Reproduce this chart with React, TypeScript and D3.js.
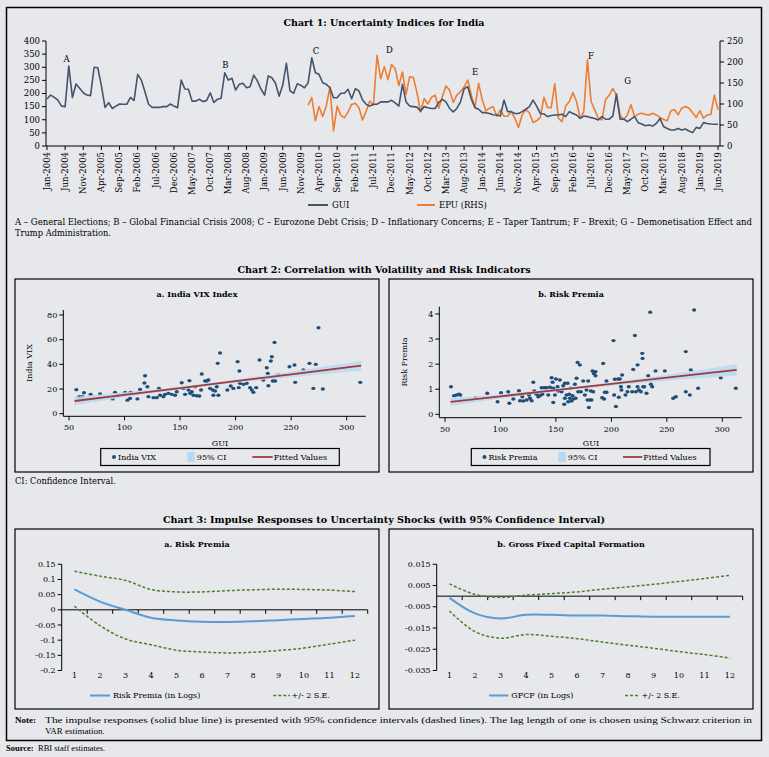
import React from "react";
import * as d3 from "d3";

// ---------------- DATA ----------------
// Chart 1: monthly, Jan-2004 .. Jun-2019
const guiValues = [
  179, 194, 185, 175, 152, 150, 305, 185, 236, 220, 203, 194,
  192, 300, 298, 229, 147, 165, 143, 152, 160, 159, 159, 185,
  173, 273, 251, 207, 159, 147, 147, 147, 150, 150, 160, 152,
  146, 251, 217, 216, 171, 171, 178, 169, 173, 203, 166, 178,
  182, 279, 251, 258, 213, 235, 239, 222, 226, 270, 248, 216,
  194, 267, 260, 239, 190, 232, 315, 210, 201, 237, 231, 222,
  241, 336, 279, 273, 241, 235, 222, 184, 184, 201, 201, 216,
  180, 218, 210, 175, 159, 152, 159, 159, 168, 168, 168, 174,
  164, 152, 235, 168, 152, 150, 148, 133, 150, 146, 143, 143,
  165, 178, 168, 143, 130, 143, 168, 218, 226, 178, 146, 140,
  127, 127, 124, 119, 118, 114, 175, 131, 131, 124, 124, 131,
  140, 150, 175, 152, 124, 122, 112, 116, 118, 118, 121, 112,
  131, 124, 118, 105, 114, 112, 108, 105, 99, 112, 102, 102,
  114, 198, 102, 103, 93, 102, 112, 89, 84, 77, 80, 76,
  86, 105, 74, 67, 61, 61, 67, 61, 65, 57, 51, 71,
  67, 89, 86, 84, 83, 83,
];
// EPU starts Jan-2010 (month index 72)
const epuStartIndex = 72;
const epuValues = [
  97, 115, 60, 94, 70, 95, 141, 36, 95, 73, 67, 81,
  99, 102, 91, 62, 83, 107, 97, 216, 160, 189, 158, 194,
  184, 144, 176, 123, 165, 163, 127, 81, 113, 100, 116, 121,
  90, 117, 143, 133, 104, 121, 129, 141, 157, 121, 92, 149,
  110, 84, 90, 94, 71, 86, 71, 71, 82, 66, 44, 74,
  87, 79, 56, 60, 68, 116, 92, 91, 148, 66, 58, 95,
  106, 127, 106, 66, 82, 205, 106, 86, 66, 62, 110, 121,
  137, 121, 74, 63, 74, 98, 70, 76, 78, 75, 74, 78,
  74, 68, 63, 60, 84, 87, 74, 90, 94, 90, 79, 68,
  84, 66, 74, 75, 121, 86,
];
const leftTicks = [0, 50, 100, 150, 200, 250, 300, 350, 400];
const rightTicks = [0, 50, 100, 150, 200, 250];
const eventLabels = ["A", "B", "C", "D", "E", "F", "G"];
const eventMonth = [5.4, 49.2, 74.2, 94.4, 118, 150, 160.1];
const eventLevel = [320, 297, 349, 354, 270, 331, 236];

// Chart 2a: India VIX vs GUI
const vixGui = [56.6, 59.3, 62, 63.5, 69.5, 78, 89.3, 91.4, 94.4, 100.5, 102.6, 105, 105.5, 111.6, 114, 117.9, 118.5, 120.6, 121.5, 126, 129, 131, 132, 135, 136.5, 139.5, 142.5, 145.5, 147, 151.5, 153, 154.5, 157.5, 158.4, 159, 160.5, 162, 163.5, 165, 167.4, 168.9, 169.5, 172.5, 174, 175.5, 177, 179.4, 180, 181.5, 183, 183.9, 184.5, 186, 192.6, 195.6, 198, 201.8, 202.8, 203.4, 204, 207, 210, 213, 214.6, 216, 218.5, 221.5, 225, 228, 229, 229.5, 231.7, 232.6, 233.5, 235, 235.6, 238.6, 248.5, 253, 253.6, 261, 266.5, 270, 272.2, 274.6, 278.5, 312.2];
const vixValues = [19.5, 13.8, 13.8, 17, 15.7, 16, 12, 17.3, 15, 17.3, 11, 12.4, 17.3, 12, 19.7, 24.9, 30.8, 21.9, 13.8, 13, 13, 20.5, 15, 13.8, 15.7, 16.5, 15.7, 15, 17.8, 25.1, 20.5, 15.7, 19.2, 26.8, 16.5, 17.8, 15, 21.9, 14.6, 14.3, 19.2, 32.2, 26.5, 26.5, 27.3, 20.5, 19.2, 15, 18.4, 21.9, 40.8, 15, 49.2, 19.2, 22.4, 20.5, 42.2, 21.1, 34.6, 24.6, 23.8, 24.6, 21.1, 19.2, 17.3, 21.1, 43.5, 27.3, 37.3, 32.7, 22.7, 42.7, 46.2, 26.5, 57.8, 26.5, 31.4, 38.1, 39.5, 25.4, 35.4, 40.8, 20.5, 40, 69.7, 20, 25.4];
const fitGrid = [55, 100, 150, 200, 250, 313];
const vixFit = [10.3, 15.3, 20.8, 26.4, 31.9, 38.9];
const vixCiUpper = [13.7, 17.3, 21.9, 27.7, 34.3, 42.7];
const vixCiLower = [6.9, 13.3, 19.7, 25.1, 29.5, 35.1];
const vixTicks = [0, 20, 40, 60, 80];

// Chart 2b: Risk premia vs GUI
const rpGui = [55.4, 58.1, 60.5, 62.6, 63.8, 77.6, 88.1, 97.4, 100.5, 107, 108, 111.6, 116.7, 117.6, 119.7, 120.6, 123.6, 125.7, 126.6, 128.1, 129.6, 130.5, 132.6, 134.1, 135.6, 137.1, 137.7, 139.5, 141.6, 143.1, 144.6, 146.1, 147, 147.6, 147.6, 149.1, 150, 151.5, 152.1, 153.6, 155.1, 156.6, 157.5, 158.1, 158.1, 159.6, 160.5, 161.1, 162, 162.6, 163.5, 164.1, 165, 165.6, 167.1, 167.7, 168.6, 169.5, 170.1, 171.6, 172.5, 174.6, 176.1, 177.6, 178.5, 179.1, 179.7, 180.6, 181.5, 182.1, 183, 183.6, 184.2, 185.7, 185.7, 191.7, 192.6, 193.5, 194.1, 195.6, 195.6, 201.9, 202.5, 203.1, 204.1, 206.1, 206.7, 207.6, 208.6, 209.1, 209.7, 212.7, 214.5, 215.7, 218.7, 219.7, 221.2, 222.1, 223.6, 223.6, 224.8, 226.6, 227.8, 228.1, 228.7, 229.6, 231.7, 233.2, 235, 235.6, 236.8, 239.8, 248.2, 255.7, 258.1, 267.1, 267.1, 270.7, 271.6, 274.6, 278.2, 298.6, 312.2];
const rpValues = [1.10, 0.74, 0.77, 0.80, 0.77, 0.66, 0.84, 0.50, 0.86, 0.90, 0.44, 0.61, 0.94, 0.54, 0.70, 0.53, 0.57, 0.77, 0.64, 0.54, 1.28, 0.93, 0.80, 0.70, 0.74, 1.06, 0.80, 1.06, 1.06, 0.77, 1.08, 1.46, 1.28, 0.47, 1.04, 0.77, 1.41, 1.10, 0.93, 1.37, 0.90, 1.14, 0.40, 1.24, 0.64, 0.77, 1.24, 0.50, 0.80, 0.64, 1.04, 0.53, 0.74, 0.61, 1.20, 0.64, 1.44, 2.07, 0.90, 1.97, 0.90, 1.33, 0.77, 0.97, 0.57, 1.33, 0.27, 0.57, 0.93, 0.57, 1.73, 0.90, 1.63, 1.70, 1.54, 0.66, 2.03, 0.61, 0.88, 1.33, 0.88, 2.94, 0.77, 1.40, 0.31, 1.41, 0.68, 1.41, 1.10, 0.97, 1.57, 0.77, 0.90, 1.10, 0.90, 1.79, 3.14, 0.90, 1.97, 1.10, 0.97, 0.90, 2.43, 2.23, 1.10, 1.10, 0.84, 1.54, 4.07, 1.20, 1.10, 1.73, 1.73, 0.64, 0.70, 0.90, 2.50, 0.77, 1.77, 4.16, 1.04, 1.46, 1.04];
const rpFit = [0.495, 0.717, 0.964, 1.21, 1.46, 1.77];
const rpCiUpper = [0.66, 0.80, 1.02, 1.28, 1.58, 2.0];
const rpCiLower = [0.33, 0.63, 0.91, 1.14, 1.34, 1.54];
const rpTicks = [0, 1, 2, 3, 4];
const guiTicks = [50, 100, 150, 200, 250, 300];

// Chart 3: impulse responses, periods 1..12
const periods = [1, 2, 3, 4, 5, 6, 7, 8, 9, 10, 11, 12];
const rpIrf = [0.067, 0.027, 0.0, -0.026, -0.035, -0.039, -0.04, -0.038, -0.034, -0.03, -0.026, -0.02];
const rpUpper = [0.127, 0.111, 0.097, 0.067, 0.059, 0.059, 0.063, 0.066, 0.068, 0.067, 0.065, 0.06];
const rpLower = [0.012, -0.052, -0.096, -0.115, -0.133, -0.139, -0.142, -0.14, -0.134, -0.126, -0.113, -0.1];
const rpIrfTicks = [-0.2, -0.15, -0.1, -0.05, 0, 0.05, 0.1, 0.15];
const gfcfIrf = [-0.0008, -0.0081, -0.0105, -0.0088, -0.0088, -0.0091, -0.0091, -0.0094, -0.0097, -0.0097, -0.0097, -0.0097];
const gfcfUpper = [0.0058, 0.0008, -0.0006, 0.0005, 0.0012, 0.002, 0.0033, 0.0044, 0.0056, 0.0069, 0.0083, 0.0098];
const gfcfLower = [-0.007, -0.0167, -0.0198, -0.0181, -0.0189, -0.02, -0.0216, -0.0231, -0.0245, -0.0261, -0.0275, -0.0291];
const gfcfTicks = [-0.035, -0.025, -0.015, -0.005, 0.005, 0.015];

// ---------------- STYLE ----------------
const SERIF = "'DejaVu Serif', 'Liberation Serif', serif";
const NOTE = "'Liberation Serif', serif";
const BG = "#e7e8ec";
const GUI_C = "#44546a";
const EPU_C = "#ed7d31";
const DOT_C = "#1f4e79";
const FIT_C = "#a23a3a";
const CI_C = "#b9d9f2";
const IRF_C = "#5b9bd5";
const SE_C = "#4f7f2a";

const months = d3.timeMonth.range(new Date(2004, 0, 1), new Date(2019, 6, 1));
const fmtMonth = d3.timeFormat("%b-%Y");

function Chart1() {
  const x = d3.scaleLinear().domain([0, guiValues.length - 1]).range([47, 718]);
  const yL = d3.scaleLinear().domain([0, 400]).range([146, 41]);
  const yR = d3.scaleLinear().domain([0, 250]).range([146, 41]);
  const guiLine = d3.line<number>().x((_, i) => x(i)).y((d) => yL(d));
  const epuLine = d3.line<number>().x((_, i) => x(i + epuStartIndex)).y((d) => yR(d));
  const labelIdx = d3.range(0, months.length, 5);
  return (
    <g fontFamily={SERIF}>
      <text x={384} y={26} textAnchor="middle" fontWeight="bold" fontSize={9.5} textLength={201} lengthAdjust="spacingAndGlyphs">
        Chart 1: Uncertainty Indices for India
      </text>
      {/* axes */}
      <line x1={46} x2={46} y1={41} y2={146} stroke="#000" strokeWidth={1} />
      <line x1={720} x2={720} y1={41} y2={146} stroke="#000" strokeWidth={1} />
      <line x1={46} x2={720} y1={146} y2={146} stroke="#000" strokeWidth={1} />
      {leftTicks.map((t) => (
        <g key={"l" + t}>
          <line x1={42} x2={46} y1={yL(t)} y2={yL(t)} stroke="#000" />
          <text x={40} y={yL(t)} dy="0.33em" textAnchor="end" fontSize={8.5}>{t}</text>
        </g>
      ))}
      {rightTicks.map((t) => (
        <g key={"r" + t}>
          <line x1={720} x2={724} y1={yR(t)} y2={yR(t)} stroke="#000" />
          <text x={727} y={yR(t)} dy="0.33em" textAnchor="start" fontSize={8.5}>{t}</text>
        </g>
      ))}
      {labelIdx.map((i) => (
        <g key={"m" + i}>
          <line x1={x(i)} x2={x(i)} y1={146} y2={150} stroke="#000" />
          <text transform={`translate(${x(i)},152) rotate(-90)`} dy="0.33em" textAnchor="end" fontSize={8.5}>
            {fmtMonth(months[i])}
          </text>
        </g>
      ))}
      <path d={epuLine(epuValues) || ""} fill="none" stroke={EPU_C} strokeWidth={1.6} strokeLinejoin="round" />
      <path d={guiLine(guiValues) || ""} fill="none" stroke={GUI_C} strokeWidth={1.6} strokeLinejoin="round" />
      {eventLabels.map((l, k) => (
        <text key={l} x={x(eventMonth[k])} y={yL(eventLevel[k])} textAnchor="middle" fontSize={8.5}>{l}</text>
      ))}
      {/* legend */}
      <line x1={308} x2={328} y1={205} y2={205} stroke={GUI_C} strokeWidth={2} />
      <text x={332} y={205} dy="0.33em" fontSize={8.5}>GUI</text>
      <line x1={417} x2={435} y1={205} y2={205} stroke={EPU_C} strokeWidth={2} />
      <text x={439} y={205} dy="0.33em" fontSize={8.5}>EPU (RHS)</text>
      <text x={15} y={225} fontSize={8.3} textLength={737} lengthAdjust="spacingAndGlyphs">
        A – General Elections; B – Global Financial Crisis 2008; C – Eurozone Debt Crisis; D – Inflationary Concerns; E – Taper Tantrum; F – Brexit; G – Demonetisation Effect and
      </text>
      <text x={15} y={236} fontSize={8.3}>Trump Administration.</text>
    </g>
  );
}

type ScatterProps = {
  left: number; axisX: number; x0: number; x1: number; axisRight: number;
  yTop: number; y0: number; yMax: number; axisBottom: number; yMaxVal: number;
  xs: number[]; ys: number[]; fit: number[]; up: number[]; lo: number[]; yTicks: number[];
  title: string; titleX: number; ylabel: string; ylabelX: number; ylabelY: number; guiX: number;
  legend: { box: [number, number]; dot: number; sw: number; line: number; lineEnd: number; name: string };
};

function Scatter(p: ScatterProps) {
  const x = d3.scaleLinear().domain([50, 300]).range([p.x0, p.x1]);
  const y = d3.scaleLinear().domain([0, p.yMaxVal]).range([p.y0, p.yMax]);
  const idx = d3.range(fitGrid.length);
  const band = d3.area<number>().x((i) => x(fitGrid[i])).y0((i) => y(p.lo[i])).y1((i) => y(p.up[i])).curve(d3.curveMonotoneX);
  const fitLine = d3.line<number>().x((i) => x(fitGrid[i])).y((i) => y(p.fit[i]));
  const lg = p.legend;
  return (
    <g fontFamily={SERIF}>
      <rect x={p.left} y={279} width={364} height={193} fill="none" stroke="#000" strokeWidth={1.2} />
      <text x={p.titleX} y={297} textAnchor="middle" fontWeight="bold" fontSize={8}>{p.title}</text>
      <line x1={p.axisX} x2={p.axisX} y1={p.yTop} y2={p.axisBottom} stroke="#000" />
      <line x1={p.axisX} x2={p.axisRight} y1={p.axisBottom} y2={p.axisBottom} stroke="#000" />
      {p.yTicks.map((t) => (
        <g key={t}>
          <line x1={p.axisX - 4} x2={p.axisX} y1={y(t)} y2={y(t)} stroke="#000" />
          <text x={p.axisX - 6} y={y(t)} dy="0.33em" textAnchor="end" fontSize={8}>{t}</text>
        </g>
      ))}
      {guiTicks.map((t) => (
        <g key={t}>
          <line x1={x(t)} x2={x(t)} y1={p.axisBottom} y2={p.axisBottom + 4} stroke="#000" />
          <text x={x(t)} y={p.axisBottom + 14} textAnchor="middle" fontSize={8}>{t}</text>
        </g>
      ))}
      <text transform={`translate(${p.ylabelX},${p.ylabelY}) rotate(-90)`} textAnchor="middle" fontSize={8}>{p.ylabel}</text>
      <text x={p.guiX} y={446} textAnchor="middle" fontSize={8}>GUI</text>
      {p.xs.map((v, i) => (
        <ellipse key={i} cx={x(v)} cy={y(p.ys[i])} rx={2.1} ry={1.7} fill={DOT_C} />
      ))}
      <path d={band(idx) || ""} fill={CI_C} opacity={0.85} />
      <path d={fitLine(idx) || ""} fill="none" stroke={FIT_C} strokeWidth={1.8} />
      {/* legend */}
      <rect x={lg.box[0]} y={448.5} width={lg.box[1] - lg.box[0]} height={17} fill="none" stroke="#000" strokeWidth={1.2} />
      <circle cx={lg.dot} cy={457} r={2} fill={DOT_C} />
      <text x={lg.dot + 4} y={457} dy="0.33em" fontSize={8}>{lg.name}</text>
      <rect x={lg.sw} y={452} width={7.5} height={10} fill={CI_C} />
      <text x={lg.sw + 9.5} y={457} dy="0.33em" fontSize={8}>95% CI</text>
      <line x1={lg.line} x2={lg.lineEnd} y1={457} y2={457} stroke={FIT_C} strokeWidth={1.8} />
      <text x={lg.lineEnd + 1} y={457} dy="0.33em" fontSize={8}>Fitted Values</text>
    </g>
  );
}

type IrfProps = {
  left: number; axisX: number; domain: [number, number]; ticks: number[]; fmt: (v: number) => string;
  title: string; titleX: number; main: number[]; up: number[]; lo: number[];
  legend: { a: number; b: number; name: string; c: number; d: number };
};

function Irf(p: IrfProps) {
  const x = d3.scaleBand<number>().domain(periods).range([p.axisX, p.axisX + 306]);
  const y = d3.scaleLinear().domain(p.domain).range([670.5, 564.3]);
  const cx = (v: number) => (x(v) || 0) + x.bandwidth() / 2;
  const line = d3.line<number>().x((_, i) => cx(periods[i])).y((d) => y(d)).curve(d3.curveCatmullRom.alpha(0.5));
  const zero = y(0);
  const lg = p.legend;
  return (
    <g fontFamily={SERIF}>
      <rect x={p.left} y={529} width={364} height={180} fill="none" stroke="#000" strokeWidth={1.2} />
      <text x={p.titleX} y={547} textAnchor="middle" fontWeight="bold" fontSize={8}>{p.title}</text>
      <line x1={p.axisX} x2={p.axisX} y1={y(p.domain[1])} y2={y(p.domain[0])} stroke="#000" />
      {p.ticks.map((t) => (
        <g key={t}>
          <line x1={p.axisX - 4} x2={p.axisX} y1={y(t)} y2={y(t)} stroke="#000" />
          <text x={p.axisX - 6} y={y(t)} dy="0.33em" textAnchor="end" fontSize={8}>{p.fmt(t)}</text>
        </g>
      ))}
      <line x1={p.axisX} x2={p.axisX + 306} y1={zero} y2={zero} stroke="#000" />
      {periods.map((v) => (
        <g key={v}>
          <line x1={(x(v) || 0) + x.bandwidth()} x2={(x(v) || 0) + x.bandwidth()} y1={zero} y2={zero + 4} stroke="#000" />
          <text x={cx(v)} y={678} textAnchor="middle" fontSize={8}>{v}</text>
        </g>
      ))}
      <path d={line(p.up) || ""} fill="none" stroke={SE_C} strokeWidth={1.5} strokeDasharray="3,2" />
      <path d={line(p.lo) || ""} fill="none" stroke={SE_C} strokeWidth={1.5} strokeDasharray="3,2" />
      <path d={line(p.main) || ""} fill="none" stroke={IRF_C} strokeWidth={2} />
      <line x1={lg.a} x2={lg.b} y1={695.5} y2={695.5} stroke={IRF_C} strokeWidth={2} />
      <text x={lg.b + 3} y={695.5} dy="0.33em" fontSize={8}>{lg.name}</text>
      <line x1={lg.c} x2={lg.d} y1={695.5} y2={695.5} stroke={SE_C} strokeWidth={1.5} strokeDasharray="3,2" />
      <text x={lg.d + 1.5} y={695.5} dy="0.33em" fontSize={8}>+/- 2 S.E.</text>
    </g>
  );
}

export default function App() {
  const f2 = (v: number) => (Math.abs(v) < 1e-9 ? "0" : String(+v.toFixed(2)));
  const f3 = (v: number) => v.toFixed(3);
  return (
    <svg width={769} height={757} style={{ position: "absolute", left: 0, top: 0, display: "block" }}>
      <rect x={0} y={0} width={769} height={757} fill={BG} />
      <rect x={6.5} y={7.5} width={755} height={733} fill="none" stroke="#000" strokeWidth={1.5} />
      <Chart1 />
      <text x={384} y={273} textAnchor="middle" fontWeight="bold" fontSize={9.5} fontFamily={SERIF} textLength={293} lengthAdjust="spacingAndGlyphs">
        Chart 2: Correlation with Volatility and Risk Indicators
      </text>
      <Scatter
        left={15} axisX={63.3} x0={69} x1={346.7} axisRight={365.7}
        yTop={310} y0={413.7} yMax={315} axisBottom={416.3} yMaxVal={80}
        xs={vixGui} ys={vixValues} fit={vixFit} up={vixCiUpper} lo={vixCiLower} yTicks={vixTicks}
        title="a. India VIX Index" titleX={197} ylabel="India VIX" ylabelX={32} ylabelY={363} guiX={220}
        legend={{ box: [100.7, 339.3], dot: 114, sw: 187.3, line: 252.3, lineEnd: 272.7, name: "India VIX" }}
      />
      <Scatter
        left={389} axisX={439.3} x0={445} x1={722.3} axisRight={741.7}
        yTop={306.7} y0={414.3} yMax={314} axisBottom={417.7} yMaxVal={4}
        xs={rpGui} ys={rpValues} fit={rpFit} up={rpCiUpper} lo={rpCiLower} yTicks={rpTicks}
        title="b. Risk Premia" titleX={571} ylabel="Risk Premia" ylabelX={407} ylabelY={362} guiX={591}
        legend={{ box: [471.3, 710], dot: 484.5, sw: 558.3, line: 623, lineEnd: 642.3, name: "Risk Premia" }}
      />
      <text x={15} y={484} fontSize={8.3} fontFamily={SERIF}>CI: Confidence Interval.</text>
      <text x={384} y={523} textAnchor="middle" fontWeight="bold" fontSize={9.5} fontFamily={SERIF} textLength={442} lengthAdjust="spacingAndGlyphs">
        Chart 3: Impulse Responses to Uncertainty Shocks (with 95% Confidence Interval)
      </text>
      <Irf
        left={15} axisX={61.7} domain={[-0.2, 0.15]} ticks={rpIrfTicks} fmt={f2}
        title="a. Risk Premia" titleX={197} main={rpIrf} up={rpUpper} lo={rpLower}
        legend={{ a: 90, b: 110, name: "Risk Premia (in Logs)", c: 273.3, d: 290 }}
      />
      <Irf
        left={389} axisX={436.7} domain={[-0.035, 0.015]} ticks={gfcfTicks} fmt={f3}
        title="b. Gross Fixed Capital Formation" titleX={571} main={gfcfIrf} up={gfcfUpper} lo={gfcfLower}
        legend={{ a: 489, b: 508.3, name: "GFCF (in Logs)", c: 625, d: 640 }}
      />
      <g fontFamily={NOTE} fontSize={9}>
        <text x={15} y={723} fontWeight="bold">Note:</text>
        <text x={45} y={723} textLength={707} lengthAdjust="spacingAndGlyphs">
          The impulse responses (solid blue line) is presented with 95% confidence intervals (dashed lines). The lag length of one is chosen using Schwarz criterion in
        </text>
        <text x={45} y={734}>VAR estimation.</text>
        <text x={6} y={751} fontWeight="bold" fontSize={8.5}>Source:</text>
        <text x={38} y={751} fontSize={8.5}>RBI staff estimates.</text>
      </g>
    </svg>
  );
}
